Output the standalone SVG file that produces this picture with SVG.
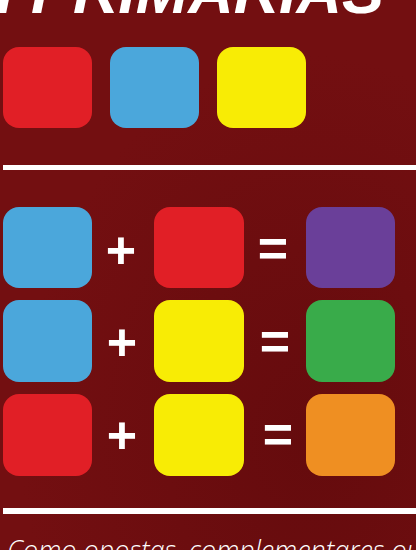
<svg xmlns="http://www.w3.org/2000/svg" width="416" height="550" viewBox="0 0 416 550">
<defs>
<radialGradient id="bg" cx="0.75" cy="0.8" r="0.7">
<stop offset="0" stop-color="#650b0d"/>
<stop offset="1" stop-color="#730f11"/>
</radialGradient>
<style>
.sq{rx:16px;ry:16px}
.red{fill:#e11f26}.blue{fill:#4ba7db}.yellow{fill:#f8ec05}.purple{fill:#6a3f99}.green{fill:#39ab4a}.orange{fill:#ef8f22}
.op{font-family:"Liberation Sans",Arial,sans-serif;font-weight:bold;font-size:52px;fill:#fff;text-anchor:middle}
.rule{fill:#fff}
</style>
</defs>
<rect width="416" height="550" fill="url(#bg)"/>
<text id="title" x="-4" y="13" font-family="Liberation Sans, Arial, sans-serif" font-weight="bold" font-style="italic" font-size="62" fill="#fff" textLength="388" lengthAdjust="spacingAndGlyphs">I PRIMARIAS</text>
<g id="primaries">
<rect class="sq red" x="3" y="47" width="89" height="81" rx="16"/>
<rect class="sq blue" x="110" y="47" width="89" height="81" rx="16"/>
<rect class="sq yellow" x="217" y="47" width="89" height="81" rx="16"/>
</g>
<rect class="rule" x="3" y="165" width="413" height="5"/>
<g id="row1">
<rect class="sq blue" x="3" y="207" width="89" height="81" rx="16"/>
<text class="op" x="121" y="268">+</text>
<rect class="sq red" x="154" y="207" width="90" height="81" rx="16"/>
<text class="op" x="273" y="266">=</text>
<rect class="sq purple" x="306" y="207" width="89" height="81" rx="16"/>
</g>
<g id="row2">
<rect class="sq blue" x="3" y="300" width="89" height="82" rx="16"/>
<text class="op" x="122" y="360">+</text>
<rect class="sq yellow" x="154" y="300" width="90" height="82" rx="16"/>
<text class="op" x="275" y="359">=</text>
<rect class="sq green" x="306" y="300" width="89" height="82" rx="16"/>
</g>
<g id="row3">
<rect class="sq red" x="3" y="394" width="89" height="82" rx="16"/>
<text class="op" x="122" y="453">+</text>
<rect class="sq yellow" x="154" y="394" width="90" height="82" rx="16"/>
<text class="op" x="278" y="452">=</text>
<rect class="sq orange" x="306" y="394" width="89" height="82" rx="16"/>
</g>
<rect class="rule" x="3" y="508" width="413" height="6"/>
<text id="caption" x="7" y="560" font-family="Open Sans, Liberation Sans, sans-serif" font-style="italic" font-weight="300" font-size="27" fill="#fff">Como opostas, complementares ou</text>
</svg>
